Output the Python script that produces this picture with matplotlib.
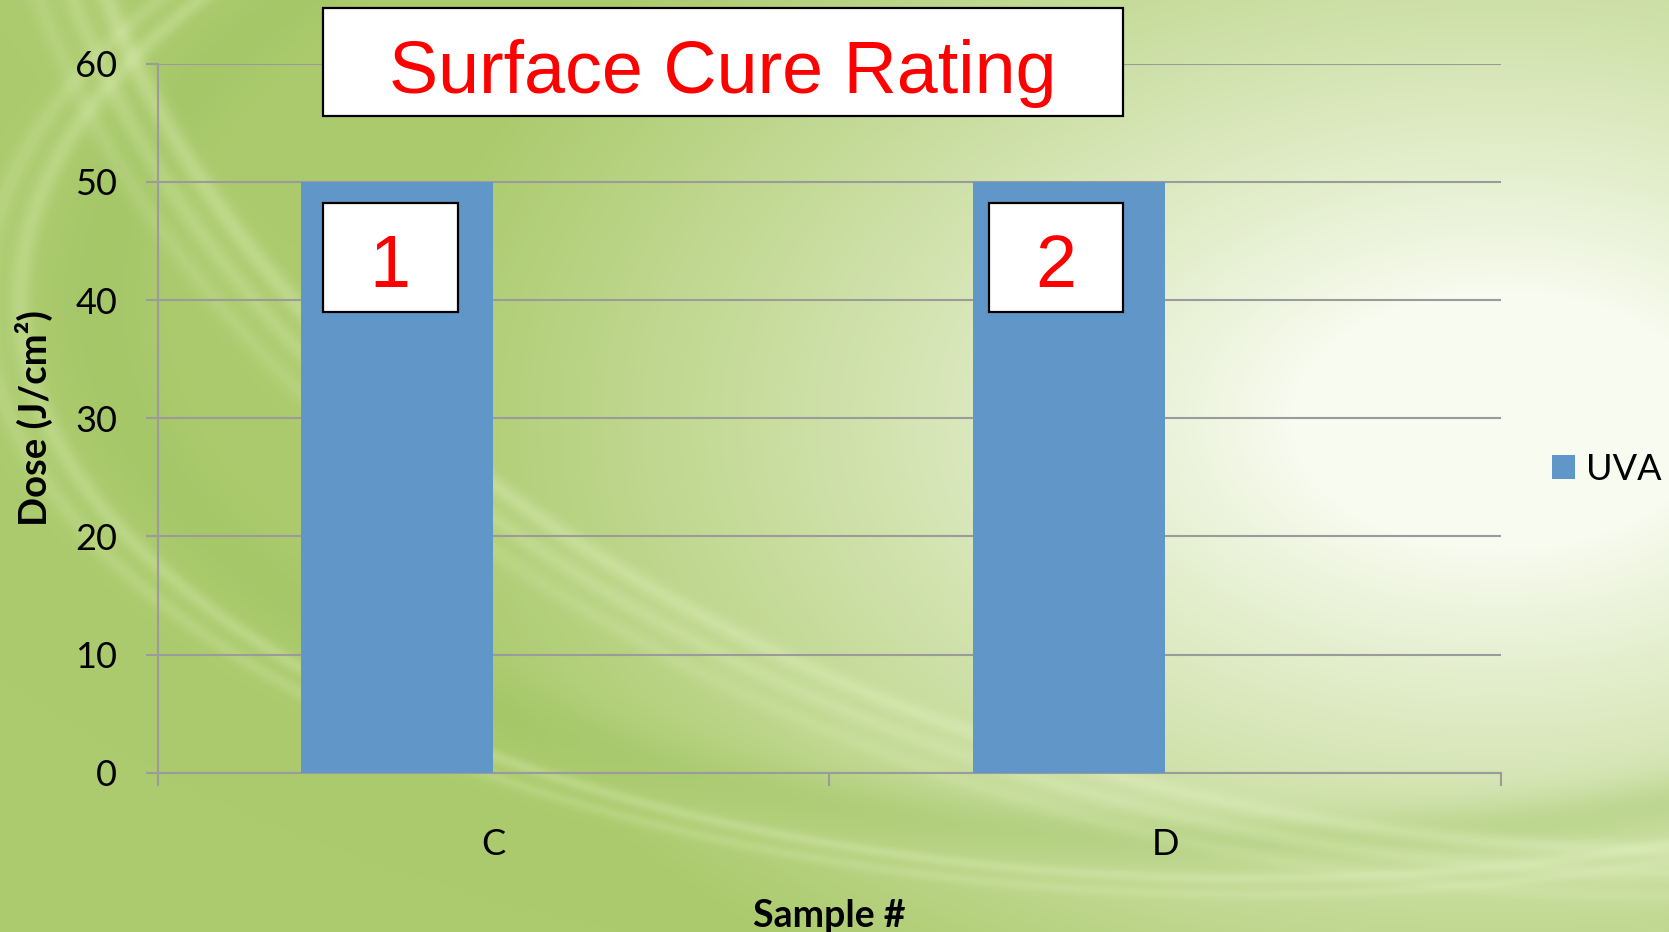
import numpy as np
import matplotlib.pyplot as plt
from matplotlib.patches import Rectangle

samples = ['C', 'D']
uva_dose = [50, 50]
ratings = ['1', '2']
yticks = [0, 10, 20, 30, 40, 50, 60]

W, H, DPI = 1669, 932, 100
BAR_COLOR = '#6096c8'
GRID = '#9b9b9b'
RED = '#ff0000'
AX_FONT = 'Lato'
BOX_FONT = 'Liberation Sans'


def background():
    # soft green slide backdrop with a light patch on the right
    yy, xx = np.mgrid[0:H, 0:W].astype(float)
    light = np.array([248, 251, 240]) / 255.0
    green = np.array([172, 203, 110]) / 255.0
    d = np.sqrt(((xx - 1500) / 1050) ** 2 + ((yy - 420) / 650) ** 2)
    t = np.clip((d - 0.2) / 0.85, 0, 1) ** 0.9
    img = light * (1 - t[..., None]) + green * t[..., None]
    # darker arc along the bottom
    e = np.sqrt(((xx - 1250) / 1150) ** 2 + ((yy - 300) / 540) ** 2)
    band = np.exp(-((e - 1.0) / 0.05) ** 2)
    dark = np.array([155, 193, 95]) / 255.0
    img = img * (1 - 0.35 * band[..., None]) + dark * 0.35 * band[..., None]
    pale = np.array([0.92, 0.97, 0.80])
    for off, a in [(1.07, 0.25), (1.10, 0.18)]:
        s = np.exp(-((e - off) / 0.01) ** 2)
        img = img * (1 - a * s[..., None]) + pale * a * s[..., None]
    # pale swoosh from the left edge down to the bottom
    e2 = np.sqrt(((xx - 1700) / 1650) ** 2 + ((yy + 300) / 1150) ** 2)
    for off, a in [(1.0, 0.3), (1.02, 0.22), (1.04, 0.15)]:
        s = np.exp(-((e2 - off) / 0.007) ** 2)
        img = img * (1 - a * s[..., None]) + pale * a * s[..., None]
    return np.clip(img, 0, 1)


fig = plt.figure(figsize=(W / DPI, H / DPI), dpi=DPI)
fig.figimage(background(), 0, 0, origin='upper', zorder=-10)

ax = fig.add_axes([157.5 / W, 159.2 / H, 1343.5 / W, 709 / H])
ax.set_facecolor('none')

x = np.arange(len(samples))
bar_w = 1 / 3.5
ax.bar(x - bar_w, uva_dose, width=bar_w, align='edge', color=BAR_COLOR,
       label='UVA', zorder=3)

ax.set_xlim(-0.5, len(samples) - 0.5)
ax.set_ylim(0, 60)
ax.set_yticks(yticks)
ax.set_xticks(x)
ax.set_xticklabels(samples)
ax.set_xticks(np.arange(len(samples) + 1) - 0.5, minor=True)

ax.grid(axis='y', color=GRID, linewidth=1.5, zorder=1)
ax.set_axisbelow(True)
for side in ['top', 'right']:
    ax.spines[side].set_visible(False)
for side in ['left', 'bottom']:
    ax.spines[side].set_color(GRID)
    ax.spines[side].set_linewidth(1.5)

ax.tick_params(axis='y', length=9, width=1.5, color=GRID, pad=20,
               labelsize=26)
ax.tick_params(axis='x', which='major', length=0, pad=40, labelsize=26)
ax.tick_params(axis='x', which='minor', length=9, width=1.5, color=GRID)
for lbl in ax.get_xticklabels() + ax.get_yticklabels():
    lbl.set_fontfamily(AX_FONT)

ax.set_ylabel('Dose (J/cm²)', fontsize=27.5, fontweight='bold', family=AX_FONT)
ax.set_xlabel('Sample #', fontsize=27, fontweight='bold', family=AX_FONT)
ax.yaxis.set_label_coords(-0.092, 0.5)
ax.yaxis.label.set_va('center')
ax.xaxis.set_label_coords(0.5, -0.202)
ax.xaxis.label.set_va('center')

leg = fig.legend(loc='center left', bbox_to_anchor=(1552 / W, 1 - 469 / H),
                 frameon=False, handlelength=0.65, handleheight=0.65,
                 handletextpad=0.3, borderpad=0, borderaxespad=0,
                 prop={'family': AX_FONT, 'size': 26})


def boxed_text(x0, y0, x1, y1, base, txt, size):
    # white box with black edge, coordinates in pixels from the top-left
    r = Rectangle((x0 / W, 1 - y1 / H), (x1 - x0) / W, (y1 - y0) / H,
                  transform=fig.transFigure, facecolor='white',
                  edgecolor='black', linewidth=1.6, zorder=5)
    fig.add_artist(r)
    fig.text((x0 + x1) / 2 / W, 1 - base / H, txt, color=RED,
             fontsize=size, family=BOX_FONT, ha='center', va='baseline',
             zorder=6)


boxed_text(322.5, 7.5, 1123, 116, 93.5, 'Surface Cure Rating', 53)
boxed_text(322.5, 203, 457.7, 312, 287, ratings[0], 53)
boxed_text(989, 203, 1123, 312, 287, ratings[1], 53)

fig.savefig('out.png', dpi=DPI)
